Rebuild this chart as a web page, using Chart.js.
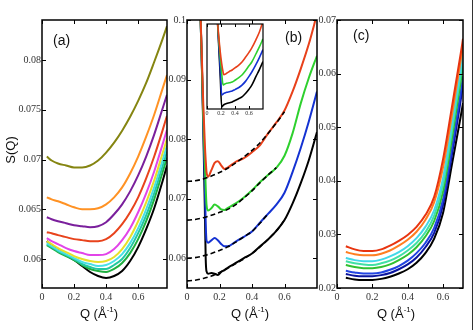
<!DOCTYPE html>
<html><head><meta charset="utf-8">
<script src="https://cdn.jsdelivr.net/npm/chart.js@4.4.0/dist/chart.umd.min.js"></script>
<style>
html,body{margin:0;padding:0;background:#fff;}
#wrap{position:relative;width:473px;height:330px;overflow:hidden;background:#fff;}
canvas{position:absolute;left:0;top:0;}
.t{position:absolute;font-family:'Liberation Sans',Arial,sans-serif;color:#111;white-space:nowrap;line-height:1;}
.xt{font-size:13px;transform:translateX(-50%);top:306px;}
.xt sup{font-size:8px;vertical-align:6px;}
.pl{font-size:14px;}
</style></head><body>
<div id="wrap">
<canvas id="cb" width="473" height="330" style="width:473px;height:330px"></canvas>
<canvas id="ca" width="473" height="330" style="width:473px;height:330px"></canvas>
<canvas id="cc" width="473" height="330" style="width:473px;height:330px"></canvas>
<canvas id="ci" width="473" height="330" style="width:473px;height:330px"></canvas>
<div class="t" style="left:10px;top:150px;font-size:13px;transform:translate(-50%,-50%) rotate(-90deg);">S(Q)</div>
<div class="t xt" style="left:99px;">Q (Å<sup>-1</sup>)</div>
<div class="t xt" style="left:250px;">Q (Å<sup>-1</sup>)</div>
<div class="t xt" style="left:396px;">Q (Å<sup>-1</sup>)</div>
<div class="t pl" style="left:53px;top:33px;">(a)</div>
<div class="t pl" style="left:285px;top:30px;">(b)</div>
<div class="t pl" style="left:353px;top:28px;">(c)</div>
<div style="position:absolute;left:472px;top:0;width:1px;height:330px;background:#333;"></div>
</div>
<script>
// ---------- Panel (a) ----------
const qA = [0.03, 0.06, 0.1, 0.15, 0.2, 0.25, 0.3, 0.35, 0.4, 0.45, 0.5, 0.55, 0.6, 0.65, 0.7, 0.75, 0.78];
const aOlive   = [0.0703,0.0699,0.0696,0.0694,0.0692,0.0692,0.0694,0.0699,0.0707,0.0717,0.0729,0.0743,0.0759,0.0777,0.0798,0.0820,0.0834];
const aOrange  = [0.0662,0.0660,0.0658,0.0655,0.0652,0.0650,0.0650,0.0651,0.0655,0.0662,0.0672,0.0686,0.0703,0.0723,0.0745,0.0770,0.0785];
const aPurple  = [0.0642,0.0640,0.0638,0.0636,0.0634,0.0633,0.0632,0.0633,0.0637,0.0645,0.0655,0.0668,0.0684,0.0703,0.0725,0.0750,0.0765];
const aRed     = [0.0627,0.0626,0.0624,0.0622,0.0620,0.0619,0.0618,0.0618,0.0620,0.0626,0.0635,0.0647,0.0662,0.0681,0.0703,0.0728,0.0744];
const aMagenta = [0.0621,0.0618,0.0615,0.0611,0.0608,0.0606,0.0604,0.0604,0.0605,0.0610,0.0619,0.0631,0.0647,0.0666,0.0688,0.0714,0.0730];
const aYellow  = [0.0618,0.0615,0.0611,0.0607,0.0603,0.0600,0.0598,0.0597,0.0598,0.0602,0.0610,0.0622,0.0638,0.0657,0.0679,0.0705,0.0721];
const aCyan    = [0.0616,0.0613,0.0609,0.0605,0.0601,0.0597,0.0595,0.0593,0.0594,0.0598,0.0605,0.0616,0.0631,0.0650,0.0672,0.0698,0.0714];
const aTeal    = [0.0615,0.0612,0.0608,0.0604,0.0600,0.0595,0.0592,0.0590,0.0590,0.0594,0.0600,0.0611,0.0626,0.0644,0.0666,0.0692,0.0708];
const aGreen   = [0.0614,0.0611,0.0607,0.0603,0.0599,0.0594,0.0590,0.0588,0.0587,0.0590,0.0596,0.0606,0.0620,0.0638,0.0660,0.0686,0.0702];
const aBlack   = [0.0618,0.0614,0.0609,0.0604,0.0599,0.0593,0.0587,0.0583,0.0581,0.0583,0.0588,0.0598,0.0612,0.0630,0.0651,0.0677,0.0694];
const aXTicks = [0, 0.2, 0.4, 0.6];
const aYTicks = [0.06, 0.065, 0.07, 0.075, 0.08];

// ---------- Panel (b) ----------
const qB = [0.065,0.08,0.09,0.1,0.11,0.115,0.12,0.13,0.15,0.17,0.19,0.21,0.23,0.25,0.3,0.35,0.4,0.45,0.5,0.55,0.6,0.65,0.7,0.75,0.8];
const bRed   = [0.125,0.104,0.095,0.086,0.079,0.0765,0.0745,0.0737,0.0748,0.0760,0.0763,0.0756,0.0750,0.0752,0.0762,0.0768,0.0778,0.0790,0.0810,0.0828,0.0848,0.0880,0.0918,0.0960,0.1010];
const bGreen = [0.125,0.104,0.094,0.084,0.076,0.072,0.0690,0.0680,0.0684,0.0690,0.0687,0.0682,0.0681,0.0684,0.0692,0.0702,0.0714,0.0728,0.0740,0.0752,0.0772,0.0810,0.0860,0.0903,0.0940];
const bBlue  = [0.125,0.104,0.094,0.083,0.072,0.066,0.0630,0.0626,0.0630,0.0634,0.0630,0.0624,0.0620,0.0620,0.0628,0.0636,0.0645,0.0660,0.0675,0.0690,0.0710,0.0745,0.0785,0.0830,0.0880];
const bBlack = [0.125,0.104,0.094,0.082,0.068,0.060,0.0578,0.0574,0.0575,0.0574,0.0572,0.0577,0.0580,0.0584,0.0592,0.0600,0.0608,0.0620,0.0632,0.0646,0.0664,0.0692,0.0726,0.0765,0.0812];
const qFit = [0, 0.05, 0.1, 0.15, 0.2, 0.25, 0.3, 0.35, 0.4, 0.45, 0.5, 0.55, 0.6];
const fitRed   = [0.0729,0.0730,0.0733,0.0738,0.0744,0.0751,0.0760,0.0770,0.0781,0.0794,0.0810,0.0827,0.0846];
const fitGreen = [0.0664,0.0665,0.0668,0.0672,0.0677,0.0682,0.0690,0.0701,0.0713,0.0727,0.0740,0.0752];
const fitBlue  = [0.0600,0.0601,0.0604,0.0608,0.0613,0.0619,0.0627,0.0636,0.0645,0.0659,0.0675];
const fitBlack = [0.0562,0.0563,0.0566,0.0570,0.0576,0.0583,0.0591,0.0599,0.0608,0.0619,0.0632,0.0646,0.0664];
const bXTicks = [0, 0.2, 0.4, 0.6];
const bYTicks = [0.06, 0.07, 0.08, 0.09, 0.1];

// ---------- Inset of (b) ----------
const qI = [0.15,0.17,0.19,0.21,0.23,0.24,0.28,0.32,0.36,0.4,0.45,0.5,0.55,0.6,0.64,0.7,0.75,0.8];
const iRed   = [0.112,0.100,0.090,0.082,0.076,0.0742,0.0752,0.0765,0.0775,0.0790,0.0808,0.0832,0.0865,0.0900,0.0931,0.0990,0.1045,0.1120];
const iGreen = [0.112,0.098,0.086,0.075,0.0669,0.0672,0.0682,0.0685,0.0690,0.0703,0.0720,0.0740,0.0770,0.0805,0.0832,0.0890,0.0940,0.0995];
const iBlue  = [0.112,0.095,0.078,0.0600,0.0605,0.0610,0.0618,0.0622,0.0627,0.0637,0.0650,0.0669,0.0695,0.0730,0.0761,0.0815,0.0865,0.0920];
const iBlack = [0.112,0.092,0.072,0.0514,0.0525,0.0530,0.0538,0.0544,0.0550,0.0560,0.0572,0.0585,0.0610,0.0640,0.0669,0.0730,0.0780,0.0835];
const iXTicks = [0, 0.2, 0.4, 0.6];

// ---------- Panel (c) ----------
const qC = [0.05,0.1,0.15,0.2,0.25,0.3,0.35,0.4,0.45,0.5,0.55,0.6,0.65,0.7,0.713];
const cRed    = [0.0278,0.0272,0.0269,0.0269,0.0272,0.0279,0.0288,0.0299,0.0314,0.0336,0.0370,0.0440,0.0537,0.0637,0.0665];
const cOrange = [0.0267,0.0263,0.0261,0.0261,0.0264,0.0270,0.0279,0.0290,0.0305,0.0327,0.0360,0.0425,0.0522,0.0625,0.0652];
const cCyan   = [0.0256,0.0252,0.0250,0.0250,0.0253,0.0259,0.0267,0.0278,0.0293,0.0314,0.0345,0.0405,0.0505,0.0610,0.0640];
const cTeal   = [0.0250,0.0246,0.0244,0.0243,0.0246,0.0251,0.0259,0.0270,0.0284,0.0304,0.0335,0.0393,0.0492,0.0598,0.0628];
const cGreen  = [0.0243,0.0239,0.0237,0.0237,0.0239,0.0244,0.0252,0.0262,0.0276,0.0296,0.0325,0.0380,0.0478,0.0585,0.0615];
const cBlue   = [0.0232,0.0229,0.0227,0.0227,0.0229,0.0234,0.0241,0.0251,0.0265,0.0284,0.0312,0.0365,0.0460,0.0565,0.0595];
const cNavy   = [0.0226,0.0223,0.0222,0.0222,0.0224,0.0228,0.0235,0.0244,0.0257,0.0276,0.0303,0.0355,0.0448,0.0550,0.0580];
const cBlack  = [0.0219,0.0216,0.0215,0.0215,0.0217,0.0221,0.0227,0.0235,0.0247,0.0265,0.0292,0.0340,0.0430,0.0520,0.0545];
const cXTicks = [0, 0.2, 0.4, 0.6];
const cYTicks = [0.02, 0.03, 0.04, 0.05, 0.06, 0.07];

// ---------- helpers ----------
const W = 473, H = 330;
function pts(q, v) { return v.map((y, i) => ({ x: q[i], y: y })); }
function line(q, v, color, extra) {
  return Object.assign({ data: pts(q, v), borderColor: color, borderWidth: 2, pointRadius: 0,
    cubicInterpolationMode: 'monotone', fill: false }, extra || {});
}
const framePlugin = {
  id: 'frame',
  beforeDraw(chart, args, o) {
    if (o.fill) {
      const a = chart.chartArea, ctx = chart.ctx;
      ctx.save(); ctx.fillStyle = '#fff';
      ctx.fillRect(a.left, a.top, a.right - a.left, a.bottom - a.top); ctx.restore();
    }
  },
  afterDraw(chart, args, o) {
    const a = chart.chartArea, ctx = chart.ctx, tl = o.tl || 4;
    ctx.save();
    ctx.strokeStyle = '#000'; ctx.lineWidth = o.lw || 1.5;
    ctx.strokeRect(a.left, a.top, a.right - a.left, a.bottom - a.top);
    ctx.lineWidth = 1;
    ctx.beginPath();
    chart.scales.x.ticks.forEach(t => {
      const px = Math.round(chart.scales.x.getPixelForValue(t.value)) + 0.5;
      ctx.moveTo(px, a.bottom); ctx.lineTo(px, a.bottom - tl);
      ctx.moveTo(px, a.top); ctx.lineTo(px, a.top + tl);
    });
    if (!o.noY) chart.scales.y.ticks.forEach(t => {
      const py = Math.round(chart.scales.y.getPixelForValue(t.value)) + 0.5;
      ctx.moveTo(a.left, py); ctx.lineTo(a.left + tl, py);
      ctx.moveTo(a.right, py); ctx.lineTo(a.right - tl, py);
    });
    ctx.stroke();
    ctx.restore();
  }
};
function makeChart(id, area, xr, yr, xTicks, yTicks, datasets, fo, fontSize) {
  const fs = fontSize || 10;
  const yw = yTicks.length ? 36 : 0;     // y-axis band width (labels live here)
  const xh = fs > 8 ? 16 : 9;            // x-axis band height
  const tickFont = { family: "'Liberation Serif', 'Times New Roman', serif", size: fs };
  return new Chart(document.getElementById(id), {
    type: 'line',
    data: { datasets: datasets },
    plugins: [framePlugin],
    options: {
      responsive: false, animation: false, devicePixelRatio: 1,
      layout: { padding: { left: area.l - yw, top: area.t, right: W - area.r, bottom: H - area.b - xh } },
      plugins: { legend: { display: false }, tooltip: { enabled: false }, frame: fo || {} },
      scales: {
        x: {
          type: 'linear', min: xr[0], max: xr[1],
          afterFit: s => { s.height = xh; },
          afterBuildTicks: s => { s.ticks = xTicks.map(v => ({ value: v })); },
          grid: { display: false, drawTicks: false }, border: { display: false },
          ticks: { font: tickFont, color: '#333', padding: fs > 8 ? 3 : 1, maxRotation: 0, autoSkip: false,
                   callback: v => String(v) }
        },
        y: {
          type: 'linear', min: yr[0], max: yr[1], display: yTicks.length > 0,
          afterFit: s => { s.width = yw; },
          afterBuildTicks: s => { s.ticks = yTicks.map(v => ({ value: v })); },
          grid: { display: false, drawTicks: false }, border: { display: false },
          ticks: { font: tickFont, color: '#333', padding: 1, autoSkip: false,
                   callback: v => String(v) }
        }
      }
    }
  });
}

// Panel (b)
makeChart('cb', { l: 187, t: 20, r: 317, b: 288 }, [0, 0.8], [0.055, 0.1], bXTicks, bYTicks, [
  line(qFit, fitRed, '#000', { borderDash: [5, 3], borderWidth: 1.6, order: -1, cubicInterpolationMode: 'default', tension: 0.3 }),
  line(qFit, fitGreen, '#000', { borderDash: [5, 3], borderWidth: 1.6, order: -1, cubicInterpolationMode: 'default', tension: 0.3 }),
  line(qFit, fitBlue, '#000', { borderDash: [5, 3], borderWidth: 1.6, order: -1, cubicInterpolationMode: 'default', tension: 0.3 }),
  line(qFit, fitBlack, '#000', { borderDash: [5, 3], borderWidth: 1.6, order: -1, cubicInterpolationMode: 'default', tension: 0.3 }),
  line(qB, bRed, '#e8401a'),
  line(qB, bGreen, '#2ed02e'),
  line(qB, bBlue, '#1432d2'),
  line(qB, bBlack, '#000')
], { lw: 1.5 });

// Panel (a)
makeChart('ca', { l: 42, t: 20, r: 167, b: 288 }, [0, 0.78], [0.05709, 0.08402], aXTicks, aYTicks, [
  line(qA, aOlive, '#858511'),
  line(qA, aOrange, '#ff9224'),
  line(qA, aPurple, '#7a1f9c'),
  line(qA, aRed, '#e8431c'),
  line(qA, aMagenta, '#e244e8'),
  line(qA, aYellow, '#e6e02a'),
  line(qA, aCyan, '#48e0e6'),
  line(qA, aTeal, '#22c8a0'),
  line(qA, aGreen, '#20b040'),
  line(qA, aBlack, '#000')
], { lw: 1.5 });

// Panel (c)
makeChart('cc', { l: 337, t: 20, r: 463, b: 288 }, [0, 0.713], [0.02, 0.07], cXTicks, cYTicks, [
  line(qC, cRed, '#e8340f'),
  line(qC, cOrange, '#ff7e22'),
  line(qC, cCyan, '#42d8e8'),
  line(qC, cTeal, '#40e0a4'),
  line(qC, cGreen, '#30c030'),
  line(qC, cBlue, '#2244e2'),
  line(qC, cNavy, '#0a14a0'),
  line(qC, cBlack, '#000')
], { lw: 1.5 });

// Inset
makeChart('ci', { l: 207, t: 24, r: 263, b: 109 }, [0, 0.8], [0.05, 0.11], iXTicks, [], [
  line(qI, iRed, '#e8401a', { borderWidth: 1.6 }),
  line(qI, iGreen, '#2ed02e', { borderWidth: 1.6 }),
  line(qI, iBlue, '#1432d2', { borderWidth: 1.6 }),
  line(qI, iBlack, '#000', { borderWidth: 1.6 })
], { lw: 1.2, tl: 3, fill: true, noY: true }, 6);
</script>
</body></html>
